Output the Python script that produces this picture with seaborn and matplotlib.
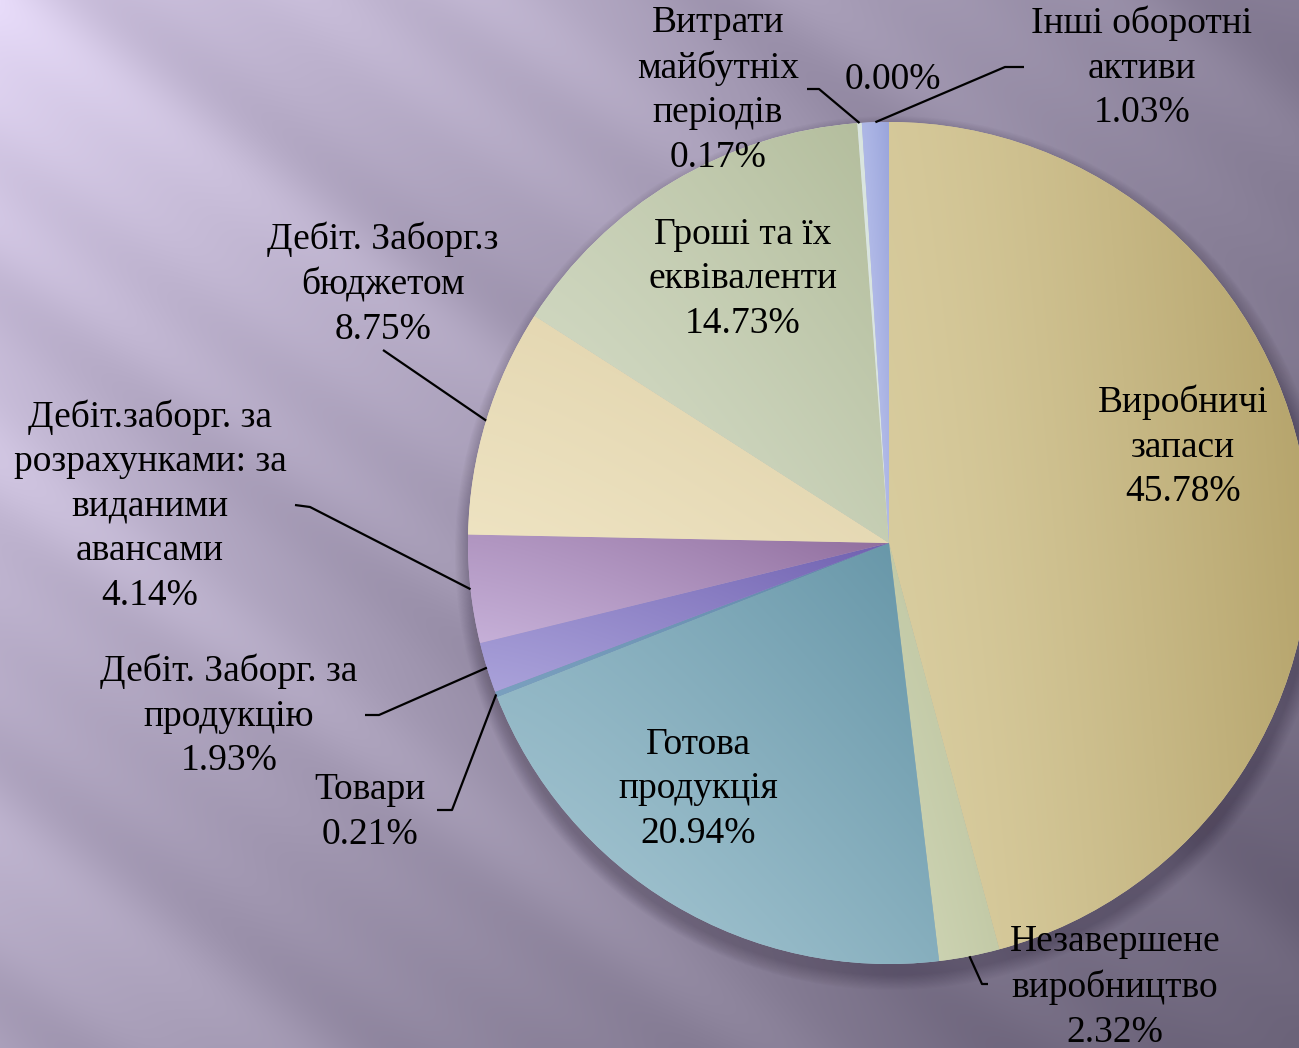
import numpy as np
import matplotlib
matplotlib.use("Agg")
import matplotlib.pyplot as plt
import seaborn as sns
from matplotlib.patches import Circle

# ---------------- data ----------------
names = [
    "Виробничі\nзапаси",
    "Незавершене\nвиробництво",
    "Готова\nпродукція",
    "Товари",
    "Дебіт. Заборг. за\nпродукцію",
    "Дебіт.заборг. за\nрозрахунками: за\nвиданими\nавансами",
    "Дебіт. Заборг.з\nбюджетом",
    "Гроші та їх\nеквіваленти",
    "Витрати\nмайбутніх\nперіодів",
    "",
    "Інші оборотні\nактиви",
]
values = [45.78, 2.32, 20.94, 0.21, 1.93, 4.14, 8.75, 14.73, 0.17, 0.00, 1.03]

# ---------------- styles ----------------
light_colors = ["#dbcfa2", "#d0d6b6", "#a9c9d5", "#7aa0bf", "#aaa2da", "#c6b0d8",
                "#eee3c2", "#d8dfcb", "#e4eee9", "#c8d0f0", "#c4cbf2"]
dark_colors = ["#b3a168", "#b6be98", "#6494a6", "#5f86a8", "#6f60b0", "#8f6c9c",
               "#ddcfa6", "#b2bc9b", "#cfdcd6", "#9aa6da", "#98a3da"]
# gradient direction weights (x, y) per wedge
grad_dir = [(0.85, 0.15), (0.5, 0.5), (0.5, 0.5), (0.5, 0.5), (0.5, 0.5), (0.6, 0.4),
            (0.5, 0.5), (0.5, 0.5), (0.5, 0.5), (0.5, 0.5), (0.5, 0.5)]

W, H = 1299, 1048
cx, cy, R = 889, H - 543, 421

# label centres (pixel coords, y from top)
label_pos = [(1183, 447), (1115, 987), (698, 789), (370, 812), (229, 716),
             (150, 506), (383, 284), (743, 279), (718, 90), (893, 80), (1142, 68)]
# leader line waypoints after the wedge edge point (pixel coords, y from top)
leaders = {
    1: [(982, 984), (988, 984)],
    3: [(452, 810), (437, 810)],
    4: [(379, 715), (365, 715)],
    5: [(310, 507), (295, 505)],
    6: [(383, 350)],
    8: [(819, 89), (807, 89)],
    10: [(1005, 67), (1024, 67)],
}

sns.set_theme(style="white")
plt.rcParams['font.family'] = ['Liberation Serif', 'DejaVu Serif']

fig = plt.figure(figsize=(W / 100, H / 100), dpi=100)

# ---------------- background ----------------
bg = fig.add_axes([0, 0, 1, 1])
bg.axis('off')
yy, xx = np.mgrid[0:H, 0:W].astype(float)
t = np.clip(0.85 * xx / W + 0.45 * yy / H, 0, 1.3) / 1.3
t = t ** 0.8
u = -0.6 * xx + 0.8 * yy
mod = (0.03 * np.sin(2 * np.pi * u / 320 + 0.4) + 0.02 * np.sin(2 * np.pi * u / 170 + 1.1)
       + 0.012 * np.sin(2 * np.pi * u / 95 + 2.0))
light = np.array([222, 210, 240]) / 255
dark = np.array([104, 96, 118]) / 255
img = light[None, None, :] * (1 - t[..., None]) + dark[None, None, :] * t[..., None]
img = np.clip(img + mod[..., None] * (1 - 0.5 * t[..., None]), 0, 1)
bg.imshow(img, extent=(0, W, 0, H), origin='upper', aspect='auto')
bg.set_xlim(0, W)
bg.set_ylim(0, H)

# ---------------- pie ----------------
ax = fig.add_axes([0, 0, 1, 1])
ax.patch.set_alpha(0)

for k in range(14):
    ax.add_patch(Circle((cx + 3, cy - 10), R + 16 - k * 1.1, color="#2a2034",
                        alpha=0.025, lw=0, zorder=0))

wedges, _ = ax.pie(values, colors=sns.color_palette(light_colors), startangle=90,
                   counterclock=False, radius=R, center=(cx, cy), frame=True,
                   wedgeprops=dict(linewidth=0))

for w, lc, dc, (wx, wy) in zip(wedges, light_colors, dark_colors, grad_dir):
    if w.theta2 - w.theta1 < 1e-6:
        continue
    th = np.deg2rad(np.linspace(w.theta1, w.theta2, 80))
    px = np.concatenate([[cx], cx + R * np.cos(th)])
    py = np.concatenate([[cy], cy + R * np.sin(th)])
    x0, x1, y0, y1 = px.min() - 1, px.max() + 1, py.min() - 1, py.max() + 1
    gx, gy = np.meshgrid(np.linspace(0, 1, 120), np.linspace(0, 1, 120))
    g = wx * gx ** 1.3 + wy * gy
    c1 = np.array(matplotlib.colors.to_rgb(lc))
    c2 = np.array(matplotlib.colors.to_rgb(dc))
    gimg = c1[None, None, :] * (1 - g[..., None]) + c2[None, None, :] * g[..., None]
    im = ax.imshow(gimg, extent=(x0, x1, y0, y1), origin='lower',
                   interpolation='bilinear', zorder=2)
    im.set_clip_path(w)

# ---------------- labels ----------------
for i, (name, v) in enumerate(zip(names, values)):
    txt = f"{name}\n{v:.2f}%" if name else f"{v:.2f}%"
    lx, ly = label_pos[i]
    ax.text(lx, H - ly, txt, ha='center', va='center', fontsize=27,
            linespacing=1.38, color='black', zorder=5)
    if i in leaders:
        w = wedges[i]
        mid = np.deg2rad((w.theta1 + w.theta2) / 2)
        ex, ey = cx + R * np.cos(mid), cy + R * np.sin(mid)
        pts = [(ex, ey)] + [(p[0], H - p[1]) for p in leaders[i]]
        xs, ys = zip(*pts)
        ax.plot(xs, ys, color='black', lw=1.6, zorder=4, solid_capstyle='butt')

ax.set_xlim(0, W)
ax.set_ylim(0, H)
ax.set_aspect('equal')
ax.axis('off')

fig.savefig("out.png", dpi=100)
